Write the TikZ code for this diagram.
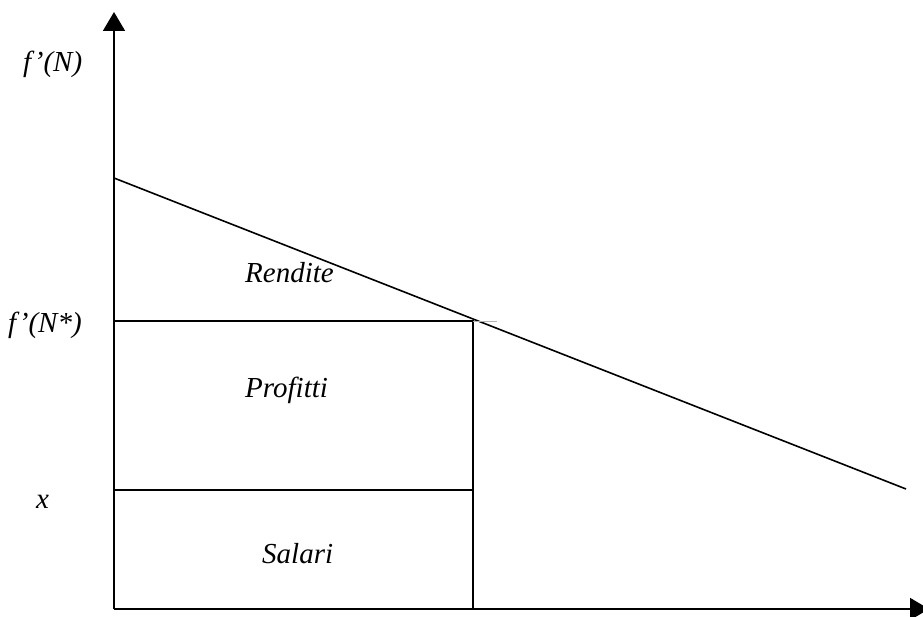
\documentclass[tikz,border=0pt]{standalone}
\usepackage{fontspec}
\setmainfont{Liberation Serif}
\usetikzlibrary{arrows.meta}
\tikzset{
  axisline/.style={line width=1.8pt, -{Triangle[width=22pt,length=19pt]}},
  plotline/.style={line width=1.6pt},
  lbl/.style={anchor=base west, inner sep=0pt, font=\fontsize{29}{32}\selectfont\itshape}
}
\begin{document}
\begin{tikzpicture}[x=1pt,y=-1pt]
\useasboundingbox (0,0) rectangle (923,617);
\coordinate (O) at (114,609);
\coordinate (Ytop) at (114,12);
\coordinate (Xend) at (929,609);
\coordinate (A) at (114,178);
\coordinate (B) at (906,489);
\coordinate (P) at (473,321);
\coordinate (Pl) at (114,321);
\coordinate (Pg) at (497,321);
\coordinate (Pb) at (473,609);
\coordinate (Xl) at (114,490);
\coordinate (Xr) at (473,490);
% axes
\draw[axisline] (O) -- (Ytop);
\draw[axisline] (O) -- (Xend);
% demand line
\draw[plotline] (A) -- (B);
% rectangles
\draw[plotline] (Pl) -- (P) -- (Pb);
\draw[gray!60, line width=0.8pt] (P) -- (Pg);
\draw[plotline] (Xl) -- (Xr);
% labels
\node[lbl] (lfN) at (23,72) {f’(N)};
\node[lbl] (lfNs) at (8,333) {f’(N*)};
\node[lbl] (lx) at (36,508) {x};
\node[lbl] (lrend) at (245,283) {Rendite};
\node[lbl] (lprof) at (245,397) {Profitti};
\node[lbl] (lsal) at (262,563) {Salari};
\end{tikzpicture}
\end{document}
